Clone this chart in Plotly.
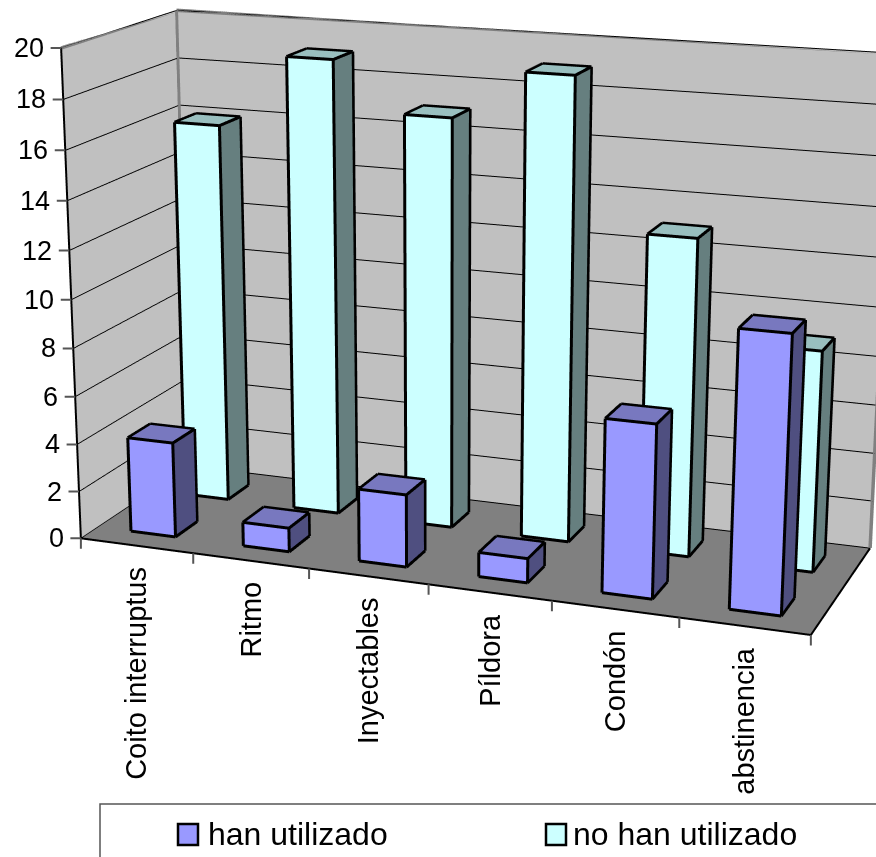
import plotly.graph_objects as go

categories = ["Coito interruptus", "Ritmo", "Inyectables", "Píldora", "Condón", "abstinencia"]
han_utilizado = [4, 1, 3, 1, 7, 11]
no_han_utilizado = [16, 19, 17, 19, 13, 9]
z_ticks = list(range(0, 21, 2))
x_ticks = list(range(7))

W, H = 876, 857
FONT = "Liberation Sans"
BAR_LEFT, BAR_RIGHT = 0.3, 0.7
FIELD_OF_VIEW = 0.3056
# Bar and corner outlines sit a hair toward the camera so the faces they border don't cover half their width
LINE_BIAS = (0.0081, -0.0106, 0.0358)
NO_BIAS = (0, 0, 0)


def outline(xs, ys, zs, color, width, bias=LINE_BIAS):
    """Line trace along the given points, optionally lifted off the surfaces beneath it."""
    shift = lambda vals, d: [None if v is None else v + d for v in vals]
    return go.Scatter3d(x=shift(xs, bias[0]), y=shift(ys, bias[1]), z=shift(zs, bias[2]),
                        mode="lines", line=dict(color=color, width=width), hoverinfo="skip", showlegend=False)


def bar_traces(values, y0, y1, front, side, top, name):
    """One mesh of boxes for a series, plus its black outlines."""
    vx, vy, vz, fc, I, J, K = [], [], [], [], [], [], []
    ex, ey, ez = [], [], []
    for n, v in enumerate(values):
        x0, x1 = n + BAR_LEFT, n + BAR_RIGHT
        b = len(vx)
        for z in (0, v):
            for x, y in ((x0, y0), (x1, y0), (x1, y1), (x0, y1)):
                vx.append(x)
                vy.append(y)
                vz.append(z)
        quads = [((0, 1, 5, 4), front), ((1, 2, 6, 5), side), ((4, 5, 6, 7), top),
                 ((2, 3, 7, 6), side), ((3, 0, 4, 7), side)]
        for q, col in quads:
            I += [b + q[0], b + q[0]]
            J += [b + q[1], b + q[2]]
            K += [b + q[2], b + q[3]]
            fc += [col, col]
        for a, c in ((0, 1), (1, 2), (2, 3), (3, 0), (4, 5), (5, 6), (6, 7), (7, 4),
                     (0, 4), (1, 5), (2, 6), (3, 7)):
            ex += [vx[b + a], vx[b + c], None]
            ey += [vy[b + a], vy[b + c], None]
            ez += [vz[b + a], vz[b + c], None]
    mesh = go.Mesh3d(x=vx, y=vy, z=vz, i=I, j=J, k=K, facecolor=fc, flatshading=True, name=name,
                     lighting=dict(ambient=1, diffuse=0, specular=0, fresnel=0), hoverinfo="skip")
    return [mesh, outline(ex, ey, ez, "black", 6)]


fig = go.Figure()

# Grey rim of the two walls, and the corner where they meet
fig.add_trace(outline([0, 0, 6, 6], [0, 1, 1, 1], [20, 20, 20, 0], "#808080", 7, NO_BIAS))
fig.add_trace(outline([0, 0], [1, 1], [0, 20], "#808080", 6))

for t in bar_traces(no_han_utilizado, .65, .85, "#CCFFFF", "#667F7F", "#99BFBF", "no han utilizado"):
    fig.add_trace(t)
for t in bar_traces(han_utilizado, .15, .35, "#9999FF", "#4F4F80", "#7878BF", "han utilizado"):
    fig.add_trace(t)

# Black axis lines: value axis, front edge and right edge of the floor
fig.add_trace(outline([0, 0, 6, 6], [0, 0, 0, 1], [20, 0, 0, 0], "black", 4, NO_BIAS))

ann = []
for v in z_ticks:
    ann.append(dict(x=0, y=0, z=v, text="", showarrow=True, arrowhead=0, arrowwidth=2, arrowcolor="#555",
                    ax=-12, ay=0, standoff=0))
    ann.append(dict(x=0, y=0, z=v, text=str(v), showarrow=False, xanchor="right", xshift=-15,
                    font=dict(family=FONT, size=27, color="black")))
for t in x_ticks:
    ann.append(dict(x=t, y=0, z=0, text="", showarrow=True, arrowhead=0, arrowwidth=2, arrowcolor="#555",
                    ax=0, ay=12, standoff=0))
for n, c in enumerate(categories):
    ann.append(dict(x=n + .5, y=0, z=0, text=c, showarrow=False, textangle=-90, xanchor="center", yanchor="top",
                    yshift=-19, font=dict(family=FONT, size=29, color="black")))

hidden = dict(zeroline=False, showticklabels=False, title="", ticks="", showspikes=False, showline=False)

fig.update_layout(
    width=W, height=H, margin=dict(l=0, r=0, t=0, b=0), paper_bgcolor="white", showlegend=False,
    scene=dict(
        domain=dict(x=[0, 1], y=[0, 1]),
        aspectmode="manual", aspectratio=dict(x=1, y=0.3364, z=0.6615),
        camera=dict(eye=dict(x=1.1965, y=-3.2967, z=0.9171),
                    center=dict(x=0.1499, y=-0.5303, z=0),
                    up=dict(x=0, y=0, z=1)),
        xaxis=dict(range=[0, 6], showgrid=False, showbackground=True, backgroundcolor="#C0C0C0", **hidden),
        yaxis=dict(range=[0, 1], showgrid=False, showbackground=True, backgroundcolor="#C0C0C0", **hidden),
        zaxis=dict(range=[0, 20], tickvals=z_ticks, showgrid=True, gridcolor="black", gridwidth=2,
                   showbackground=True, backgroundcolor="#808080", **hidden),
        annotations=ann,
    ),
    shapes=[dict(type="rect", xref="paper", yref="paper", x0=100 / W, x1=1.05, y0=-.05, y1=1 - 804 / H,
                 line=dict(color="#555", width=1.5)),
            dict(type="rect", xref="paper", yref="paper", x0=178 / W, x1=198 / W, y0=1 - 845 / H, y1=1 - 824 / H,
                 fillcolor="#9999FF", line=dict(color="black", width=2.5)),
            dict(type="rect", xref="paper", yref="paper", x0=546 / W, x1=566 / W, y0=1 - 845 / H, y1=1 - 824 / H,
                 fillcolor="#CCFFFF", line=dict(color="black", width=2.5))],
    annotations=[dict(xref="paper", yref="paper", x=206 / W, y=1 - 834 / H, text="han utilizado", showarrow=False,
                      xanchor="left", yanchor="middle", font=dict(family=FONT, size=32, color="black")),
                 dict(xref="paper", yref="paper", x=571 / W, y=1 - 834 / H, text="no han utilizado", showarrow=False,
                      xanchor="left", yanchor="middle", font=dict(family=FONT, size=32, color="black"))],
)

# Long-lens view: narrow the 3D camera's field of view once the scene exists
fig.write_html("out.html", post_script=(
    "var s=document.getElementById('{plot_id}')._fullLayout.scene._scene;"
    f"s.glplot.fovy={FIELD_OF_VIEW};s.glplot.redraw();"))
